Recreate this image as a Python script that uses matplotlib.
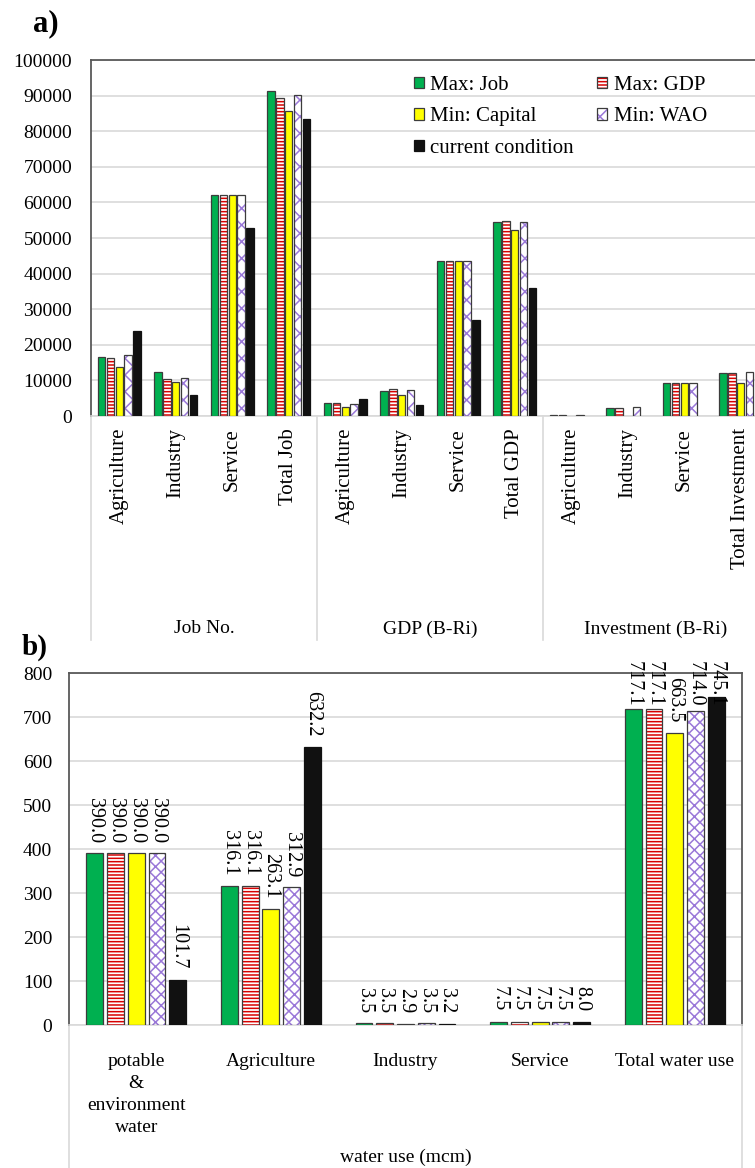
import numpy as np
import matplotlib
matplotlib.use('Agg')
import matplotlib.pyplot as plt
from matplotlib.transforms import blended_transform_factory

plt.rcParams['font.family'] = ['Liberation Serif', 'DejaVu Serif']
plt.rcParams['hatch.linewidth'] = 1.1

# ---------------- a) jobs, GDP, investment ----------------
cats_a = ['Agriculture', 'Industry', 'Service', 'Total Job',
          'Agriculture', 'Industry', 'Service', 'Total GDP',
          'Agriculture', 'Industry', 'Service', 'Total Investment']
groups_a = ['Job No.', 'GDP (B-Ri)', 'Investment (B-Ri)']

max_job = [16450, 12340, 62060, 91300, 3740, 6920, 43460, 54490, 280, 2340, 9350, 11960]
max_gdp = [16350, 10470, 62060, 89250, 3740, 7480, 43460, 54860, 280, 2340, 9350, 11960]
min_cap = [13740, 9530, 62060, 85600, 2620, 5800, 43460, 52340, 0, 0, 9350, 9350]
min_wao = [17100, 10560, 62060, 90190, 3360, 7290, 43460, 54580, 250, 2520, 9350, 12240]
current = [24020, 5800, 52800, 83550, 4860, 2990, 27100, 35890, 0, 0, 0, 0]

series_names = ['Max: Job', 'Max: GDP', 'Min: Capital', 'Min: WAO', 'current condition']

# ---------------- b) water use ----------------
cats_b = ['potable\n&\nenvironment\nwater', 'Agriculture', 'Industry', 'Service', 'Total water use']
water_job = [390.0, 316.1, 3.5, 7.5, 717.1]
water_gdp = [390.0, 316.1, 3.5, 7.5, 717.1]
water_cap = [390.0, 263.1, 2.9, 7.5, 663.5]
water_wao = [390.0, 312.9, 3.5, 7.5, 714.0]
water_now = [101.7, 632.2, 3.2, 8.0, 745.1]

GREEN = '#00b050'
RED = '#d80000'
YELLOW = '#ffff00'
PURPLE = '#9a78d8'
BLACK = '#111111'
EDGE = '#3c3c3c'
GRID = '#d9d9d9'
FRAME = '#595959'

# face colour, hatch colour (None = solid)
styles = [(GREEN, None), ('white', RED), (YELLOW, None), ('white', PURPLE), (BLACK, None)]
hatches = [None, '-----', None, 'xx', None]


def draw_series(ax, vals, k, step, width, xhatch):
    x = np.arange(len(vals)) + (k - 2) * step
    vals = np.asarray(vals, dtype=float)
    face, hc = styles[k]
    lw = np.where(vals > 0, 0.9, 0.0)
    if hc is None:
        edge = BLACK if k == 4 else EDGE
        return ax.bar(x, vals, width, color=face, edgecolor=edge, linewidth=lw, zorder=3)
    h = hatches[k] if k != 3 else xhatch
    ax.bar(x, vals, width, color='white', edgecolor=hc, hatch=h, linewidth=0, zorder=3)
    return ax.bar(x, vals, width, color='none', edgecolor=EDGE, linewidth=lw, zorder=4)


def style_axes(ax, pad):
    ax.set_axisbelow(True)
    ax.yaxis.grid(True, color=GRID, linewidth=1.2)
    for s in ['top', 'left', 'right']:
        ax.spines[s].set_color(FRAME)
        ax.spines[s].set_linewidth(1.3)
    ax.spines['bottom'].set_color(GRID)
    ax.spines['bottom'].set_linewidth(1.2)
    ax.tick_params(axis='both', length=0)
    ax.tick_params(axis='y', labelsize=14, pad=pad)


fig = plt.figure(figsize=(7.55, 11.68), dpi=100)

# ---- panel a ----
axa = fig.add_axes([0.1205, 0.6438, 0.898, 0.3048])
step_a, width_a = 0.157, 0.13
for k, vals in enumerate([max_job, max_gdp, min_cap, min_wao, current]):
    draw_series(axa, vals, k, step_a, width_a, 'xx')
axa.set_xlim(-0.5, len(cats_a) - 0.5)
axa.set_ylim(0, 100000)
axa.set_yticks(np.arange(0, 100001, 10000))
style_axes(axa, 13.5)
axa.set_xticks(np.arange(len(cats_a)))
axa.set_xticklabels(cats_a, rotation=90, fontsize=15)
axa.tick_params(axis='x', pad=8.5)

tra = blended_transform_factory(axa.transData, axa.transAxes)
for edge in [-0.5, 3.5, 7.5, 11.5]:
    axa.plot([edge, edge], [0, -0.63], transform=tra, color=GRID, lw=1.2, clip_on=False)
for g, name in enumerate(groups_a):
    axa.text(4 * g + 1.5, -0.598, name, transform=tra, ha='center', va='center', fontsize=14)

# legend: hatched entries drawn as pattern + outline
handles = []
for k in range(5):
    face, hc = styles[k]
    if hc is None:
        handles.append(plt.Rectangle((0, 0), 1, 1, facecolor=face,
                                     edgecolor=BLACK if k == 4 else EDGE, linewidth=0.9))
    else:
        h = hatches[k] if k != 3 else 'xx'
        handles.append((plt.Rectangle((0, 0), 1, 1, facecolor='white', edgecolor=hc, hatch=h, linewidth=0),
                        plt.Rectangle((0, 0), 1, 1, facecolor='none', edgecolor=EDGE, linewidth=0.9)))
order = [0, 2, 4, 1, 3]
fig.legend([handles[i] for i in order], [series_names[i] for i in order],
           ncol=2, loc='upper left', bbox_to_anchor=(0.548, 0.935), frameon=False,
           fontsize=15, handlelength=0.5, handleheight=0.5, handletextpad=0.3,
           labelspacing=0.6, columnspacing=1.1, borderpad=0, borderaxespad=0)

fig.text(0.044, 0.980, 'a)', fontsize=22, fontweight='bold', va='center')

# ---- panel b ----
axb = fig.add_axes([0.0914, 0.1224, 0.8914, 0.3014])
step_b, width_b = 0.154, 0.125
all_b = [water_job, water_gdp, water_cap, water_wao, water_now]
for k, vals in enumerate(all_b):
    draw_series(axb, vals, k, step_b, width_b, 'xxx')
axb.set_xlim(-0.5, len(cats_b) - 0.5)
axb.set_ylim(0, 800)
axb.set_yticks(np.arange(0, 801, 100))
style_axes(axb, 12)
axb.set_xticks(np.arange(len(cats_b)))
axb.set_xticklabels(cats_b, fontsize=14, linespacing=1.4)
axb.tick_params(axis='x', pad=20)

trb = blended_transform_factory(axb.transData, axb.transAxes)
for edge in [-0.5, 4.5]:
    axb.plot([edge, edge], [0, -0.42], transform=trb, color=GRID, lw=1.2, clip_on=False)
axb.text(2, -0.375, 'water use (mcm)', transform=trb, ha='center', va='center', fontsize=14)

# value labels above bars, kept inside the chart area at the top
renderer = fig.canvas.get_renderer()
top_limit = 1168 - 661
for k, vals in enumerate(all_b):
    for i, v in enumerate(vals):
        ann = axb.annotate(f'{v:.1f}', (i + (k - 2) * step_b, v), xytext=(0, 7.5),
                           textcoords='offset points', rotation=270, ha='center',
                           va='bottom', fontsize=14.5, annotation_clip=False, zorder=5)
        bb = ann.get_window_extent(renderer)
        if bb.y1 > top_limit:
            ann.xyann = (0, 7.5 - (bb.y1 - top_limit) * 72 / fig.dpi)

fig.text(0.028, 0.4455, 'b)', fontsize=21, fontweight='bold', va='center')

fig.savefig('out.png', dpi=100)
